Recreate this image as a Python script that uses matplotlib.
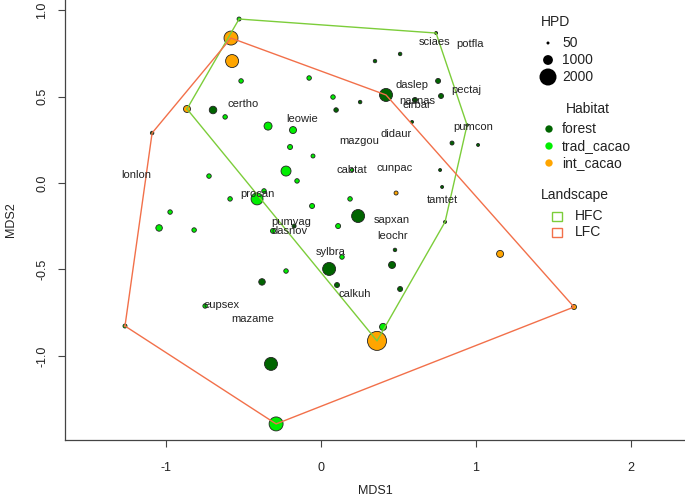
import numpy as np
import matplotlib
matplotlib.use('Agg')
import matplotlib.pyplot as plt
from matplotlib.patches import Rectangle

plt.rcParams['font.family'] = ['Liberation Sans', 'DejaVu Sans']
plt.rcParams['axes.unicode_minus'] = False

# site scores (MDS1, MDS2), habitat, HPD and landscape
site_x = [-0.529, -0.581, -0.574, -0.516, -0.865, -0.697, -0.619, -0.342, -1.090, -0.723,
          -0.587, -0.368, -0.413, -0.974, -1.045, -0.819, -1.265, -0.748, -0.381, -0.323,
          -0.290, -0.310, -0.174, -0.058, 0.239, 0.110, 0.800, 0.477, 0.135, -0.226,
          0.052, 0.458, 0.103, 0.510, 0.400, 0.361, 1.155, 1.632, 0.742, 0.510,
          0.348, 0.755, 0.419, 0.774, 0.606, -0.077, 0.077, 0.252, 0.097, -0.181,
          0.587, -0.200, -0.052, 0.845, 1.013, -0.226, -0.155, 0.200, 0.768, 0.781,
          0.484, 0.187, 0.942]
site_y = [0.948, 0.838, 0.705, 0.590, 0.428, 0.422, 0.382, 0.329, 0.289, 0.040,
          -0.092, -0.046, -0.092, -0.168, -0.260, -0.272, -0.827, -0.711, -0.572, -1.046,
          -1.393, -0.277, -0.249, -0.133, -0.191, -0.249, -0.225, -0.387, -0.428, -0.509,
          -0.497, -0.474, -0.590, -0.613, -0.832, -0.913, -0.410, -0.717, 0.867, 0.746,
          0.705, 0.590, 0.509, 0.503, 0.480, 0.607, 0.497, 0.468, 0.422, 0.306,
          0.353, 0.208, 0.156, 0.231, 0.220, 0.069, 0.012, 0.075, 0.075, -0.023,
          -0.058, -0.092, 0.335]
site_habitat = ['trad_cacao', 'int_cacao', 'int_cacao', 'trad_cacao', 'int_cacao', 'forest', 'trad_cacao', 'trad_cacao', 'forest', 'trad_cacao',
                'trad_cacao', 'trad_cacao', 'trad_cacao', 'trad_cacao', 'trad_cacao', 'trad_cacao', 'trad_cacao', 'trad_cacao', 'forest', 'forest',
                'trad_cacao', 'trad_cacao', 'forest', 'trad_cacao', 'forest', 'trad_cacao', 'forest', 'forest', 'trad_cacao', 'trad_cacao',
                'forest', 'forest', 'forest', 'forest', 'trad_cacao', 'int_cacao', 'int_cacao', 'int_cacao', 'forest', 'forest',
                'forest', 'forest', 'forest', 'forest', 'forest', 'trad_cacao', 'trad_cacao', 'forest', 'forest', 'trad_cacao',
                'forest', 'trad_cacao', 'trad_cacao', 'forest', 'forest', 'trad_cacao', 'trad_cacao', 'trad_cacao', 'forest', 'forest',
                'int_cacao', 'trad_cacao', 'forest']
site_hpd = [190, 1580, 1440, 260, 610, 680, 260, 750, 120, 260,
            260, 260, 1300, 260, 540, 260, 190, 260, 540, 1440,
            1580, 330, 190, 330, 1440, 330, 50, 120, 260, 260,
            1440, 610, 330, 330, 610, 2280, 610, 330, 50, 120,
            120, 330, 1440, 330, 330, 260, 260, 120, 260, 610,
            50, 330, 190, 190, 50, 1025, 260, 120, 50, 50,
            190, 260, 10]
site_landscape = ['HFC', 'LFC', 'LFC', 'HFC', 'HFC', 'HFC', 'LFC', 'HFC', 'LFC', 'LFC',
                  'LFC', 'HFC', 'LFC', 'LFC', 'LFC', 'LFC', 'LFC', 'LFC', 'LFC', 'LFC',
                  'LFC', 'LFC', 'HFC', 'HFC', 'HFC', 'HFC', 'HFC', 'HFC', 'HFC', 'LFC',
                  'HFC', 'HFC', 'HFC', 'HFC', 'HFC', 'HFC', 'LFC', 'LFC', 'HFC', 'HFC',
                  'HFC', 'HFC', 'LFC', 'HFC', 'HFC', 'HFC', 'HFC', 'HFC', 'LFC', 'HFC',
                  'HFC', 'LFC', 'HFC', 'HFC', '', 'HFC', 'LFC', 'HFC', 'HFC', 'HFC',
                  'LFC', 'HFC', 'HFC']

# species scores
species = ['sciaes', 'potfla', 'daslep', 'pectaj', 'nasnas', 'eirbar', 'pumcon', 'didaur',
           'mazgou', 'leowie', 'cabtat', 'cunpac', 'tamtet', 'certho', 'lonlon', 'procan',
           'pumyag', 'dasnov', 'sapxan', 'leochr', 'sylbra', 'calkuh', 'eupsex', 'mazame']
species_x = [0.729, 0.961, 0.587, 0.935, 0.619, 0.619, 0.980, 0.484,
             0.245, -0.123, 0.200, 0.477, 0.780, -0.503, -1.190, -0.413,
             -0.194, -0.206, 0.458, 0.464, 0.065, 0.219, -0.639, -0.439]
species_y = [0.815, 0.803, 0.566, 0.537, 0.474, 0.450, 0.325, 0.283,
             0.243, 0.370, 0.075, 0.087, -0.098, 0.457, 0.046, -0.064,
             -0.225, -0.277, -0.214, -0.306, -0.400, -0.640, -0.705, -0.786]

habitats = ['forest', 'trad_cacao', 'int_cacao']
habitat_colors = {'forest': '#006400', 'trad_cacao': '#00EE00', 'int_cacao': '#FFA500'}
landscapes = ['HFC', 'LFC']
landscape_colors = {'HFC': '#7CCD3A', 'LFC': '#F2704A'}
hpd_legend = [50, 1000, 2000]


def marker_size(hpd):
    # diameter in pixels grows linearly with HPD, converted to points^2
    d = 2.64 + 0.00718 * np.asarray(hpd, dtype=float)
    return (d * 0.72) ** 2


def convex_hull(pts):
    pts = sorted(set(pts))
    if len(pts) < 3:
        return pts

    def cross(o, a, b):
        return (a[0] - o[0]) * (b[1] - o[1]) - (a[1] - o[1]) * (b[0] - o[0])

    lower, upper = [], []
    for p in pts:
        while len(lower) >= 2 and cross(lower[-2], lower[-1], p) <= 0:
            lower.pop()
        lower.append(p)
    for p in reversed(pts):
        while len(upper) >= 2 and cross(upper[-2], upper[-1], p) <= 0:
            upper.pop()
        upper.append(p)
    return lower[:-1] + upper[:-1]


fig = plt.figure(figsize=(6.85, 4.96), dpi=100)
ax = fig.add_axes([65 / 685, 56 / 496, 620 / 685, 440 / 496])

colors = [habitat_colors[h] for h in site_habitat]
ax.scatter(site_x, site_y, s=marker_size(site_hpd), c=colors,
           edgecolors='#222222', linewidths=0.6, zorder=2)

for land in landscapes:
    pts = [(x, y) for x, y, l in zip(site_x, site_y, site_landscape) if l == land]
    hull = convex_hull(pts)
    hull.append(hull[0])
    hx, hy = zip(*hull)
    ax.plot(hx, hy, color=landscape_colors[land], lw=1.0, zorder=3)

for name, x, y in zip(species, species_x, species_y):
    ax.text(x, y, name, ha='center', va='center', fontsize=8, color='#222222', zorder=4)

ax.set_xlim(-1.652, 2.348)
ax.set_ylim(-1.486, 1.058)
ax.set_xticks([-1, 0, 1, 2])
ax.set_yticks([-1.0, -0.5, 0.0, 0.5, 1.0])
ax.set_yticklabels(['-1.0', '-0.5', '0.0', '0.5', '1.0'], rotation=90, va='center')
ax.tick_params(labelsize=9, length=5, width=0.8, color='#444444', labelcolor='#222222')
ax.tick_params(axis='x', pad=11)
ax.tick_params(axis='y', pad=7)
for side in ['top', 'right']:
    ax.spines[side].set_visible(False)
for side in ['left', 'bottom']:
    ax.spines[side].set_color('#444444')
    ax.spines[side].set_linewidth(0.9)
ax.set_xlabel('MDS1', fontsize=9, color='#222222', labelpad=8)
ax.set_ylabel('MDS2', fontsize=9, color='#222222', labelpad=14)

# legends drawn in pixel coordinates on an overlay axes
lg = fig.add_axes([0, 0, 1, 1], facecolor='none')
lg.set_xlim(0, 685)
lg.set_ylim(496, 0)
lg.axis('off')
fs = 10

lg.text(556, 22, 'HPD', ha='center', va='center', fontsize=fs, color='#222222')
for i, v in enumerate(hpd_legend):
    yy = 43 + i * 17
    lg.scatter([548], [yy], s=marker_size(v), color='black', edgecolors='none')
    lg.text(562, yy, str(v), ha='left', va='center', fontsize=fs, color='#222222')

lg.text(588, 109, 'Habitat', ha='center', va='center', fontsize=fs, color='#222222')
for i, h in enumerate(habitats):
    yy = 129 + i * 17
    lg.scatter([549], [yy], s=28, color=habitat_colors[h], edgecolors='none')
    lg.text(562, yy, h, ha='left', va='center', fontsize=fs, color='#222222')

lg.text(575, 195, 'Landscape', ha='center', va='center', fontsize=fs, color='#222222')
for i, l in enumerate(landscapes):
    yy = 216 + i * 16
    lg.add_patch(Rectangle((552, yy - 4.5), 10, 9, fill=False,
                           edgecolor=landscape_colors[l], lw=1.0))
    lg.text(575, yy, l, ha='left', va='center', fontsize=fs, color='#222222')

fig.savefig('out.png', dpi=100)
